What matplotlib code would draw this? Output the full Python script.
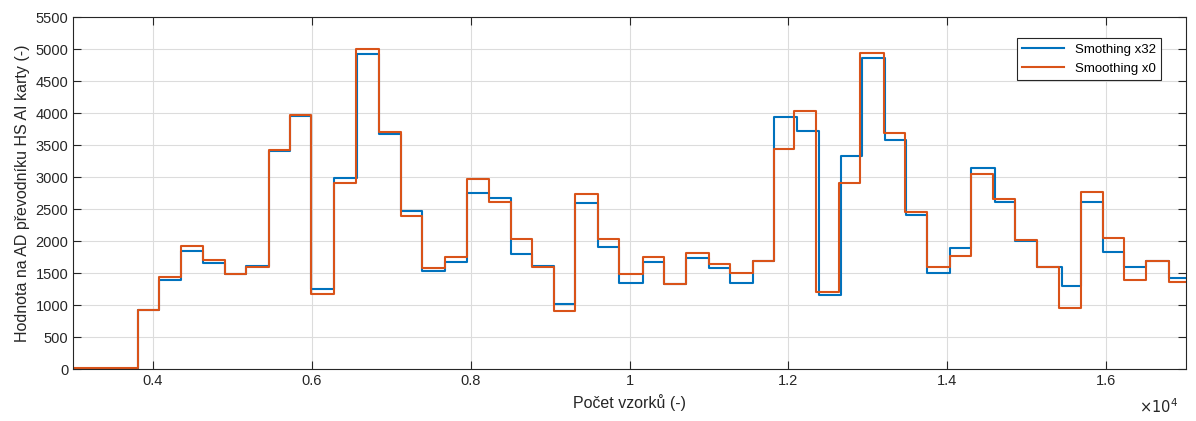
import matplotlib.pyplot as plt
from matplotlib.ticker import FuncFormatter

plt.rcParams['font.family'] = ['Liberation Sans', 'DejaVu Sans']

# step edges (sample index where each level starts) and levels
blue_edges = [3000, 3811, 4084, 4357, 4634, 4906, 5179, 5465, 5733, 5997, 6287,
              6572, 6853, 7126, 7390, 7680, 7957, 8229, 8510, 8775, 9047, 9320,
              9600, 9873, 10167, 10440, 10713, 10997, 11270, 11551, 11824, 12110,
              12390, 12663, 12927, 13210, 13480, 13745, 14030, 14303, 14600, 14857,
              15130, 15444, 15684, 15956, 16229, 16506, 16787]
blue_levels = [0, 925, 1396, 1854, 1656, 1484, 1620, 3411, 3958, 1250, 2995,
               4922, 3677, 2479, 1542, 1672, 2750, 2672, 1802, 1614, 1016, 2594,
               1911, 1354, 1672, 1328, 1734, 1583, 1354, 1693, 3937, 3729,
               1161, 3338, 4870, 3583, 2411, 1510, 1890, 3140, 2609, 2010,
               1594, 1307, 2609, 1828, 1604, 1698, 1432]

orange_edges = [3000, 3811, 4084, 4357, 4634, 4906, 5179, 5465, 5733, 5997, 6287,
                6564, 6853, 7126, 7390, 7680, 7957, 8229, 8510, 8775, 9047, 9320,
                9600, 9873, 10167, 10440, 10713, 10997, 11270, 11551, 11824, 12076,
                12352, 12642, 12906, 13200, 13473, 13745, 14030, 14303, 14576, 14857,
                15130, 15402, 15684, 15956, 16229, 16506, 16787]
orange_levels = [20, 928, 1437, 1927, 1708, 1484, 1594, 3427, 3974, 1177, 2917,
                 5000, 3703, 2396, 1578, 1760, 2974, 2620, 2031, 1604, 917, 2739,
                 2031, 1484, 1750, 1333, 1812, 1641, 1500, 1693, 3448, 4036,
                 1208, 2911, 4937, 3687, 2463, 1604, 1776, 3047, 2661, 2021,
                 1604, 953, 2776, 2057, 1396, 1698, 1359]

x_end = 17000
yticks = list(range(0, 5501, 500))
xticks = [4000, 6000, 8000, 10000, 12000, 14000, 16000]

fig = plt.figure(figsize=(11.96, 4.21), dpi=100)
ax = fig.add_axes([0.0613, 0.1228, 0.9301, 0.8362])

ax.step(blue_edges + [x_end], blue_levels + [blue_levels[-1]], where='post',
        color='#0072BD', lw=1.5, label='Smothing x32')
ax.step(orange_edges + [x_end], orange_levels + [orange_levels[-1]], where='post',
        color='#D95319', lw=1.5, label='Smoothing x0')

ax.set_xlim(3000, 17000)
ax.set_ylim(0, 5500)
ax.set_xticks(xticks)
ax.set_yticks(yticks)
ax.xaxis.set_major_formatter(FuncFormatter(lambda v, p: f"{v / 1e4:g}"))
ax.grid(True, color='#dcdcdc', lw=0.8)
ax.set_axisbelow(True)
ax.tick_params(direction='in', top=True, right=True, length=6, width=0.8,
               labelsize=10.5, colors='#262626')
for s in ax.spines.values():
    s.set_color('#262626')
    s.set_linewidth(0.8)

ax.set_xlabel('Počet vzorků (-)', fontsize=11.5, color='#262626')
ax.set_ylabel('Hodnota na AD převodníku HS AI karty (-)', fontsize=11.5, color='#262626')
fig.text(0.985, 0.035, r'$\times10^{4}$', ha='right', va='center', fontsize=10.5, color='#262626')

leg = ax.legend(loc='upper right', bbox_to_anchor=(0.978, 0.94), borderaxespad=0,
                fancybox=False, framealpha=1, edgecolor='#262626', fontsize=9.5,
                handlelength=3.2)
leg.get_frame().set_linewidth(0.8)

fig.savefig('out.png', dpi=100)
